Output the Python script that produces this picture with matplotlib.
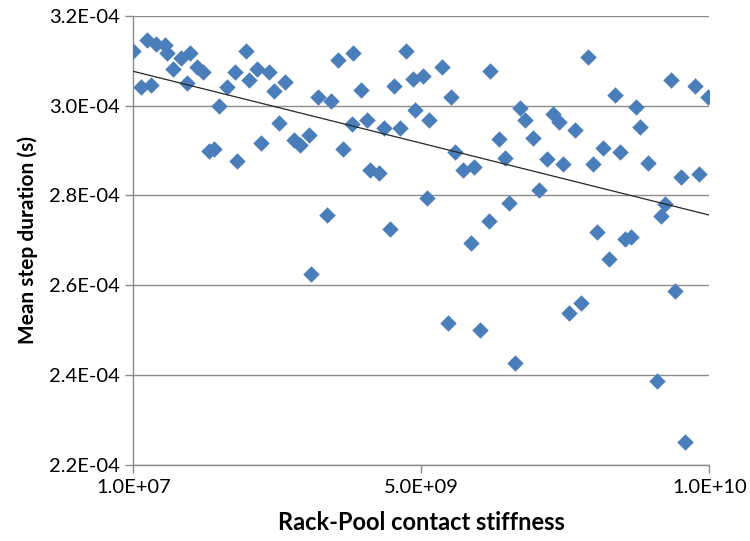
import matplotlib.pyplot as plt
import matplotlib.ticker as mticker
import numpy as np

# contact stiffness (units of 1e9) and mean step duration (units of 1e-4 s)
stiffness = [
    0.010, 0.138, 0.253, 0.322, 0.404, 0.555, 0.600, 0.704, 0.832, 0.947,
    0.993, 1.110, 1.214, 1.318, 1.410, 1.502, 1.640, 1.779, 1.814, 1.965,
    2.011, 2.161, 2.230, 2.358, 2.450, 2.532, 2.646, 2.797, 2.901, 3.052,
    3.087, 3.213, 3.375, 3.444, 3.560, 3.642, 3.803, 3.826, 3.954, 4.058,
    4.115, 4.266, 4.358, 4.462, 4.532, 4.636, 4.740, 4.866, 4.891, 5.029,
    5.099, 5.144, 5.364, 5.468, 5.525, 5.595, 5.723, 5.862, 5.919, 6.023,
    6.184, 6.197, 6.348, 6.452, 6.531, 6.635, 6.717, 6.809, 6.948, 7.052,
    7.180, 7.284, 7.388, 7.458, 7.572, 7.666, 7.780, 7.896, 7.988, 8.047,
    8.151, 8.255, 8.370, 8.451, 8.533, 8.637, 8.729, 8.798, 8.937, 9.088,
    9.168, 9.237, 9.341, 9.410, 9.515, 9.584, 9.757, 9.816, 9.978,
]
step_duration = [
    3.122, 3.041, 3.147, 3.046, 3.136, 3.135, 3.118, 3.081, 3.105, 3.050,
    3.118, 3.086, 3.074, 2.899, 2.904, 2.998, 3.041, 3.075, 2.876, 3.121,
    3.057, 3.081, 2.916, 3.075, 3.032, 2.961, 3.053, 2.924, 2.912, 2.934,
    2.624, 3.019, 2.757, 3.011, 3.102, 2.904, 2.959, 3.117, 3.034, 2.967,
    2.857, 2.850, 2.951, 2.726, 3.043, 2.951, 3.121, 3.059, 2.989, 3.066,
    2.795, 2.968, 3.086, 2.516, 3.019, 2.897, 2.857, 2.694, 2.864, 2.501,
    2.744, 3.078, 2.925, 2.884, 2.783, 2.427, 2.994, 2.967, 2.927, 2.811,
    2.881, 2.982, 2.964, 2.869, 2.539, 2.945, 2.560, 3.109, 2.870, 2.719,
    2.906, 2.659, 3.023, 2.897, 2.704, 2.707, 2.997, 2.952, 2.873, 2.386,
    2.755, 2.781, 3.057, 2.587, 2.842, 2.251, 3.043, 2.848, 3.020,
]

x = np.array(stiffness) * 1e9
y = np.array(step_duration) * 1e-4

plt.rcParams['font.family'] = ['Lato', 'DejaVu Sans']

fig = plt.figure(figsize=(7.5, 5.41), dpi=100)
ax = fig.add_axes([0.1777, 0.1405, 0.768, 0.8305])

ax.scatter(x, y, marker='D', s=70, color='#4a7ebb', linewidths=0, zorder=3)

# linear trendline
k, b = np.polyfit(x, y, 1)
xt = np.array([1e7, 1e10])
ax.plot(xt, k * xt + b, color='#262626', lw=0.9, zorder=4)

ax.set_xlim(1e7, 1e10)
ax.set_ylim(2.2e-4, 3.2e-4)
ax.set_xticks([1e7, 5e9, 1e10])
ax.set_yticks(np.arange(2.2e-4, 3.21e-4, 0.2e-4))

def sci(v, pos):
    m, e = f"{v:.1E}".split('E')
    return f"{m}E{e[0]}{int(e[1:]):02d}"

ax.xaxis.set_major_formatter(mticker.FuncFormatter(sci))
ax.yaxis.set_major_formatter(mticker.FuncFormatter(sci))

ax.grid(axis='y', color='#8c8c8c', lw=1)
ax.set_axisbelow(True)
for side in ['top', 'right']:
    ax.spines[side].set_visible(False)
for side in ['left', 'bottom']:
    ax.spines[side].set_color('#8c8c8c')
    ax.spines[side].set_linewidth(1)
ax.tick_params(direction='out', length=6, width=1, color='#8c8c8c',
               labelsize=14.5, labelcolor='black')
ax.tick_params(axis='x', pad=4)

ax.set_xlabel('Rack-Pool contact stiffness', fontsize=17, fontweight='bold', labelpad=11)
ax.set_ylabel('Mean step duration (s)', fontsize=15, fontweight='bold', labelpad=8)

fig.savefig('out.png', dpi=100)
